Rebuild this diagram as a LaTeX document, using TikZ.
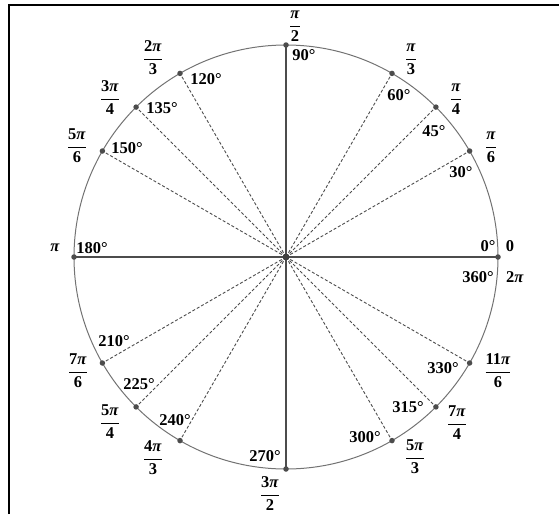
\documentclass[tikz,border=0pt]{standalone}
\usepackage{fontspec}
\setmainfont{Liberation Serif}
\newcommand\frc[2]{{\setlength\arrayrulewidth{1.2pt}\begin{tabular}{@{}c@{}}\rule[-7pt]{0pt}{18pt}#1\\\hline\rule[-5pt]{0pt}{19pt}#2\end{tabular}}}
\newcommand\ppi{\textit{π}}
\begin{document}
\begin{tikzpicture}[x=1pt,y=-1pt,
  lbl/.style={inner sep=0pt,font=\fontsize{16.5}{20}\selectfont\bfseries,text=black},
  dotpt/.style={circle,fill=black!70,inner sep=0pt,minimum size=5.5pt},
  ctr/.style={circle,fill=black!75,inner sep=0pt,minimum size=7pt},
  ray/.style={draw=black!70,line width=0.9pt,dash pattern=on 3pt off 2pt},
  axisln/.style={draw=black!70,line width=1.5pt},
  circ/.style={draw=black!55,line width=1pt},
  frameln/.style={draw=black,line width=2pt}]
\useasboundingbox (0,0) rectangle (559,514);
\draw[frameln] (8.5,514) -- (8.5,5) -- (559,5);
\coordinate (O) at (286,257);
\foreach \a in {0,30,45,60,90,120,135,150,180,210,225,240,270,300,315,330}{
  \path (O) ++(\a:212pt) coordinate (c\a);
}
\foreach \a in {30,45,60,120,135,150,210,225,240,300,315,330}{
  \draw[ray] (O) -- (c\a);
}
\draw[axisln] (c180) -- (c0);
\draw[axisln] (c90) -- (c270);
\draw[circ] (O) circle[radius=212pt];
\foreach \a in {0,30,45,60,90,120,135,150,180,210,225,240,270,300,315,330}{
  \node[dotpt] (p\a) at (c\a) {};
}
\node[ctr] (pO) at (O) {};
% degree labels
\node[lbl] (d90) at (304,55) {90°};
\node[lbl] (d60) at (399,95) {60°};
\node[lbl] (d45) at (434,131) {45°};
\node[lbl] (d30) at (461,172) {30°};
\node[lbl] (d0) at (488,246) {0°};
\node[lbl] (d360) at (478,277) {360°};
\node[lbl] (d120) at (206,79) {120°};
\node[lbl] (d135) at (162,108) {135°};
\node[lbl] (d150) at (127,148) {150°};
\node[lbl] (d180) at (92,248) {180°};
\node[lbl] (d210) at (114,341) {210°};
\node[lbl] (d225) at (139,384) {225°};
\node[lbl] (d240) at (175,420) {240°};
\node[lbl] (d270) at (265,456) {270°};
\node[lbl] (d300) at (365,437) {300°};
\node[lbl] (d315) at (408,407) {315°};
\node[lbl] (d330) at (443,368) {330°};
% radian labels
\node[lbl] (r180) at (55,248) {\ppi};
\node[lbl] (r0) at (510,246) {0};
\node[lbl] (r360) at (515,277) {2\ppi};
\node[lbl] (r90) at (295,26) {\frc{\ppi}{2}};
\node[lbl] (r60) at (411,59) {\frc{\ppi}{3}};
\node[lbl] (r45) at (456,99) {\frc{\ppi}{4}};
\node[lbl] (r30) at (491,147) {\frc{\ppi}{6}};
\node[lbl] (r120) at (153,59) {\frc{2\ppi}{3}};
\node[lbl] (r135) at (110,99) {\frc{3\ppi}{4}};
\node[lbl] (r150) at (77,147) {\frc{5\ppi}{6}};
\node[lbl] (r210) at (78,372) {\frc{7\ppi}{6}};
\node[lbl] (r225) at (110,423) {\frc{5\ppi}{4}};
\node[lbl] (r240) at (153,459) {\frc{4\ppi}{3}};
\node[lbl] (r270) at (270,495) {\frc{3\ppi}{2}};
\node[lbl] (r300) at (415,458) {\frc{5\ppi}{3}};
\node[lbl] (r315) at (457,424) {\frc{7\ppi}{4}};
\node[lbl] (r330) at (498,372) {\frc{11\ppi}{6}};
\end{tikzpicture}
\end{document}
